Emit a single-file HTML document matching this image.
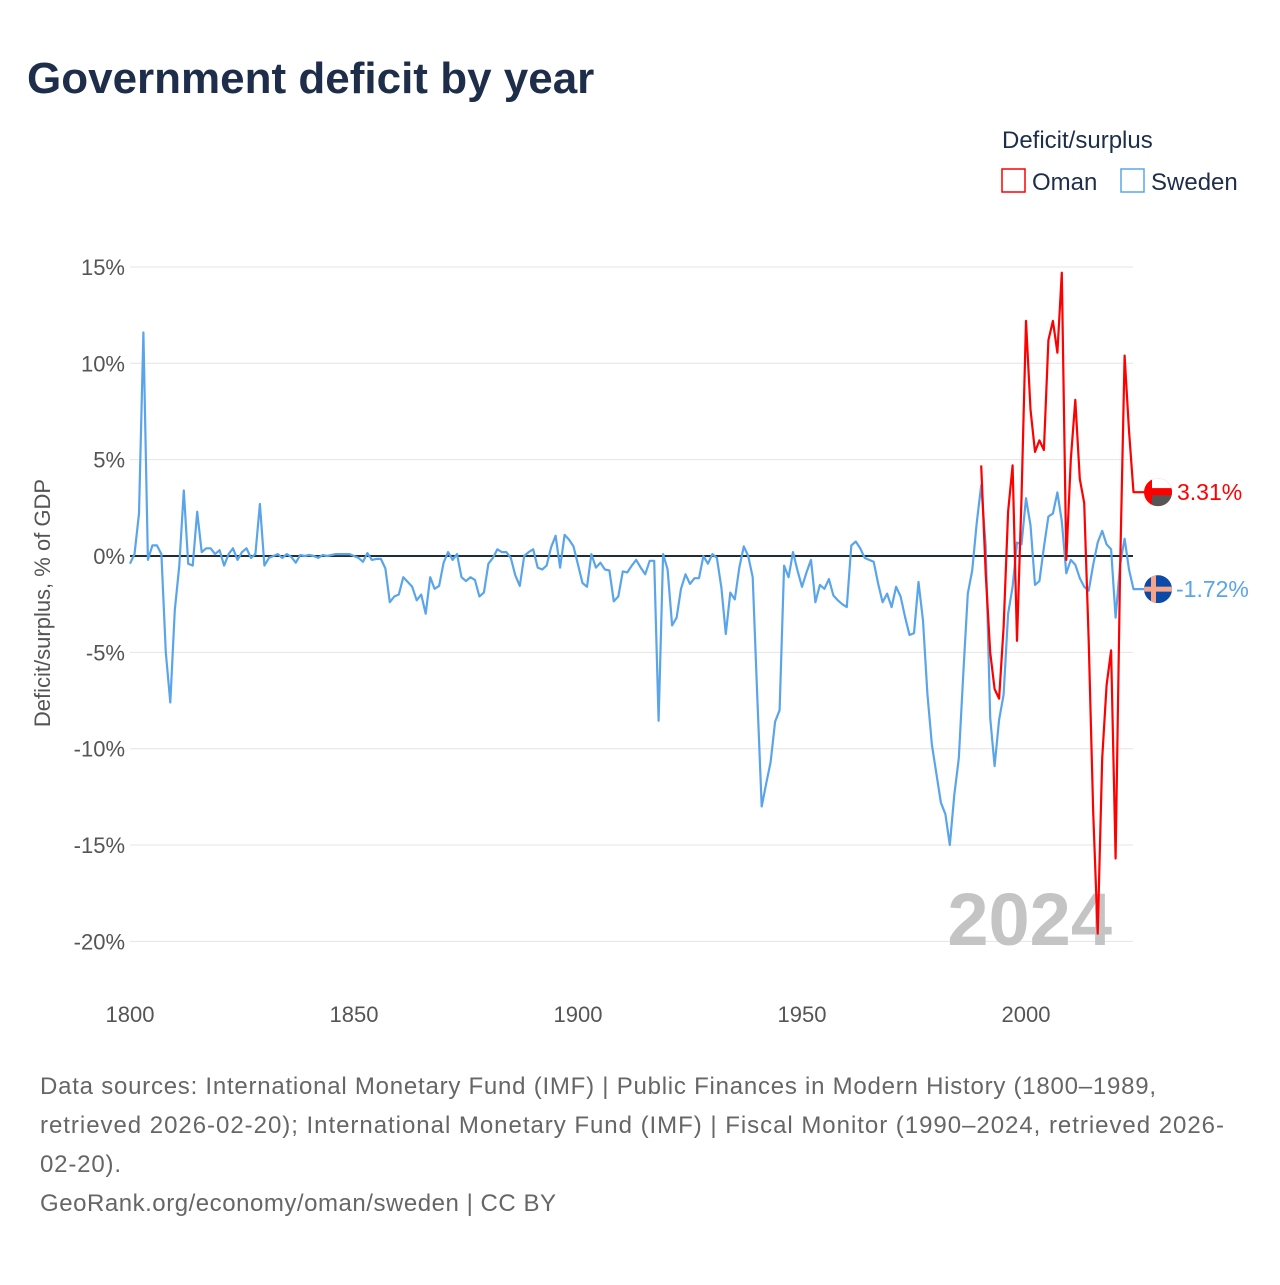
<!DOCTYPE html>
<html><head><meta charset="utf-8"><style>
body{margin:0;background:#fff;font-family:"Liberation Sans",sans-serif;}
svg text{font-family:"Liberation Sans",sans-serif;}
</style></head><body>
<svg id="chart" width="1280" height="1280" viewBox="0 0 1280 1280">
<defs><clipPath id="oc"><circle id="occ" cx="1158" cy="0" r="14"/></clipPath><clipPath id="sc"><circle id="scc" cx="1158" cy="0" r="14"/></clipPath></defs>
<text x="27" y="93" font-size="44" font-weight="bold" fill="#1e2d4a">Government deficit by year</text>
<g>
<text x="1002" y="148" font-size="24" fill="#1e2d4a">Deficit/surplus</text>
<rect x="1002" y="169" width="23" height="23" fill="none" stroke="#ff0000" stroke-width="1.5"/>
<text x="1032" y="190" font-size="24" fill="#1e2d4a">Oman</text>
<rect x="1121" y="169" width="23" height="23" fill="none" stroke="#5aa5ea" stroke-width="1.5"/>
<text x="1151" y="190" font-size="24" fill="#1e2d4a">Sweden</text>
</g>
<g id="grid"></g>
<g id="yticks"></g>
<g id="xticks"></g>
<text transform="translate(50,603) rotate(-90)" text-anchor="middle" font-size="22" fill="#555">Deficit/surplus, % of GDP</text>
<text x="1112" y="945" text-anchor="end" font-size="74" font-weight="bold" fill="#c4c4c4">2024</text>
<g id="series"></g>
<g font-size="24" fill="#666">
<text x="40" y="1094" textLength="1116">Data sources: International Monetary Fund (IMF) | Public Finances in Modern History (1800–1989,</text>
<text x="40" y="1133" textLength="1184">retrieved 2026-02-20); International Monetary Fund (IMF) | Fiscal Monitor (1990–2024, retrieved 2026-</text>
<text x="40" y="1172" textLength="81">02-20).</text>
<text x="40" y="1211" textLength="516">GeoRank.org/economy/oman/sweden | CC BY</text>
</g>
</svg>
<script>
const yTicks=[15,10,5,0,-5,-10,-15,-20];
const xTicks=[1800,1850,1900,1950,2000];
const swedenStart=1800;
const swedenValues=[-0.4,0.1,2.2,11.6,-0.2,0.55,0.55,0.1,-5,-7.6,-2.8,-0.5,3.4,-0.4,-0.5,2.3,0.2,0.4,0.4,0.1,0.3,-0.5,0.1,0.4,-0.2,0.2,0.4,-0.1,0.1,2.7,-0.5,-0.1,0,0.1,-0.1,0.1,-0.05,-0.35,0.05,0,0.05,0,-0.1,0.05,0,0.05,0.1,0.1,0.1,0.1,0,-0.1,-0.3,0.15,-0.2,-0.15,-0.15,-0.65,-2.4,-2.1,-2.0,-1.1,-1.35,-1.6,-2.3,-2.0,-3.0,-1.1,-1.7,-1.55,-0.35,0.2,-0.2,0.1,-1.1,-1.3,-1.1,-1.25,-2.1,-1.9,-0.4,-0.1,0.35,0.2,0.2,-0.1,-1.0,-1.55,0,0.2,0.35,-0.6,-0.7,-0.5,0.45,1.05,-0.6,1.1,0.85,0.5,-0.45,-1.4,-1.6,0.1,-0.6,-0.35,-0.7,-0.75,-2.35,-2.1,-0.8,-0.85,-0.5,-0.2,-0.6,-0.95,-0.25,-0.25,-8.55,0.1,-0.7,-3.6,-3.2,-1.7,-0.95,-1.45,-1.15,-1.15,0,-0.4,0.1,-0.1,-1.65,-4.05,-1.9,-2.25,-0.6,0.5,0,-1.1,-7.2,-13.0,-11.8,-10.7,-8.6,-8.0,-0.5,-1.1,0.2,-0.75,-1.6,-0.85,-0.2,-2.4,-1.5,-1.7,-1.2,-2.05,-2.3,-2.5,-2.65,0.55,0.75,0.4,-0.1,-0.2,-0.3,-1.45,-2.4,-1.95,-2.65,-1.6,-2.1,-3.15,-4.1,-4.0,-1.35,-3.35,-7.15,-9.8,-11.3,-12.8,-13.4,-15.0,-12.4,-10.5,-6.1,-1.95,-0.75,1.7,3.67,0.5,-8.4,-10.9,-8.5,-7.2,-3.0,-1.6,0.7,0.6,3.0,1.6,-1.5,-1.3,0.45,2.05,2.2,3.3,1.8,-0.9,-0.2,-0.45,-1.15,-1.6,-1.8,-0.45,0.7,1.3,0.6,0.35,-3.2,-0.45,0.9,-0.7,-1.72];
const omanStart=1990;
const omanValues=[4.7,-0.9,-5.0,-6.9,-7.4,-3.7,2.3,4.7,-4.4,3.0,12.2,7.6,5.4,6.0,5.5,11.2,12.2,10.55,14.7,-0.2,5.0,8.1,4.0,2.75,-4.4,-13.3,-19.6,-10.5,-6.7,-4.9,-15.7,-0.7,10.4,6.5,3.31];
const labels=["3.31%","-1.72%"];
const NS="http://www.w3.org/2000/svg";
const X=yr=>130+(yr-1800)*4.48;
const Y=v=>556-v*19.27;
function mk(tag,attrs,parent){const e=document.createElementNS(NS,tag);for(const k in attrs)e.setAttribute(k,attrs[k]);parent.appendChild(e);return e;}
const grid=document.getElementById('grid'),yt=document.getElementById('yticks'),xt=document.getElementById('xticks'),ser=document.getElementById('series');
yTicks.forEach(v=>{
 const l=mk('line',{x1:130,x2:1133,y1:Y(v),y2:Y(v),stroke:v===0?'#1e2d3a':'#e4e4e4','stroke-width':v===0?2:1},v===0?ser:grid);
 
 
 const t=mk('text',{x:125,y:Y(v)+8,'text-anchor':'end','font-size':22,fill:'#555'},yt);
 t.textContent=v+'%';
 
 
});
xTicks.forEach(yr=>{
 const t=mk('text',{x:X(yr),y:1022,'text-anchor':'middle','font-size':22,fill:'#555'},xt);
 t.textContent=yr;
 
 
});
function drawLine(start,vals,color,name,endX){
 let d=vals.map((v,i)=>(i?'L':'M')+X(start+i).toFixed(1)+','+Y(v).toFixed(1)).join(' ');
 const last=vals[vals.length-1];
 d+=' L'+endX+','+Y(last).toFixed(1);
 const p=mk('path',{d:d,fill:'none',stroke:color,'stroke-width':2.2,'stroke-linejoin':'round'},ser);
 
 
 return Y(last);
}
const ys=drawLine(swedenStart,swedenValues,'#5aa5ea','sweden-line',1150);
const yo=drawLine(omanStart,omanValues,'#ff0000','oman-line',1145);
document.getElementById('occ').setAttribute('cy',yo);
document.getElementById('scc').setAttribute('cy',ys);
const mo=mk('g',{'clip-path':'url(#oc)'},ser);


mk('rect',{x:1144,y:yo-14,width:28,height:28,fill:'#ff0000'},mo);
mk('rect',{x:1152,y:yo+3,width:20,height:11,fill:'#555'},mo);
mk('rect',{x:1152,y:yo-14,width:20,height:10,fill:'#ffffff'},mo);
mk('rect',{x:1152,y:yo-4,width:20,height:7,fill:'#ff0000'},mo);
const mw=mk('g',{'clip-path':'url(#sc)'},ser);


mk('rect',{x:1144,y:ys-14,width:28,height:28,fill:'#0b4aa8'},mw);
mk('rect',{x:1144,y:ys-2.5,width:28,height:5,fill:'#f4a58a'},mw);
mk('rect',{x:1151,y:ys-14,width:5,height:28,fill:'#f4a58a'},mw);
const lo=mk('text',{x:1177,y:yo+8,'font-size':23,fill:'#ff0000'},ser);
lo.textContent=labels[0];


const lw=mk('text',{x:1176,y:ys+8,'font-size':23,fill:'#5aa5ea'},ser);
lw.textContent=labels[1];


</script>
</body></html>
